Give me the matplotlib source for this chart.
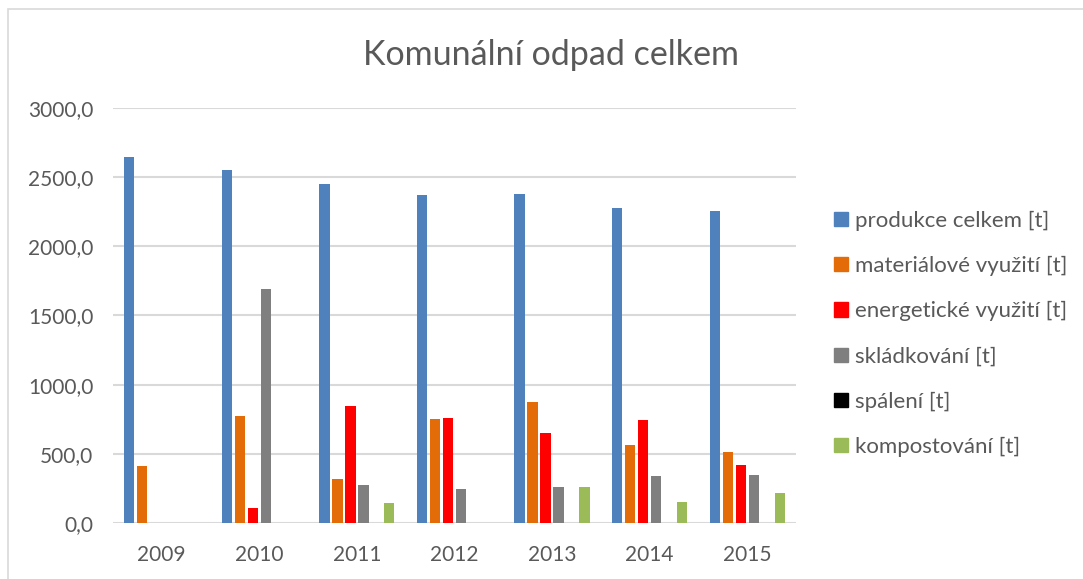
import matplotlib.pyplot as plt
import matplotlib.patches as mpatches
import numpy as np

plt.rcParams['font.family'] = ['Lato', 'DejaVu Sans']

years = ['2009', '2010', '2011', '2012', '2013', '2014', '2015']
series_names = ['produkce celkem [t]', 'materiálové využití [t]', 'energetické využití [t]',
                'skládkování [t]', 'spálení [t]', 'kompostování [t]']
produkce = [2643, 2549, 2448, 2369, 2381, 2277, 2256]
materialove = [412, 775, 318, 753, 874, 566, 515]
energeticke = [0, 111, 843, 758, 652, 744, 421]
skladkovani = [0, 1690, 272, 248, 258, 337, 349]
spaleni = [0, 0, 0, 0, 0, 0, 0]
kompostovani = [0, 0, 144, 0, 260, 152, 219]
colors = ['#4F81BD', '#E36C09', '#FF0000', '#7F7F7F', '#000000', '#9BBB59']

text_color = '#595959'
grid_color = '#D9D9D9'

fig = plt.figure(figsize=(10.83, 5.79), dpi=100)
ax = fig.add_axes([0.1043, 0.0967, 0.6307, 0.7168])

x = np.arange(len(years))
slot = 0.133
width = 0.105
all_series = [produkce, materialove, energeticke, skladkovani, spaleni, kompostovani]
for j, (vals, c) in enumerate(zip(all_series, colors)):
    ax.bar(x + (j - 2.5) * slot, vals, width=width, color=c, zorder=3)

ax.set_xlim(-0.5, len(years) - 0.5)
ax.set_ylim(0, 3000)
ax.set_yticks(np.arange(0, 3001, 500))
ax.set_yticklabels([f'{v:.1f}'.replace('.', ',') for v in np.arange(0, 3001, 500)])
ax.set_xticks(x)
ax.set_xticklabels(years)
ax.tick_params(axis='y', length=0, pad=14, labelsize=15, labelcolor=text_color)
ax.tick_params(axis='x', length=0, pad=16, labelsize=15, labelcolor=text_color)
ax.grid(axis='y', color=grid_color, linewidth=1.5, zorder=0)
for s in ax.spines.values():
    s.set_visible(False)

fig.text(0.509, 0.905, 'Komunální odpad celkem', ha='center', va='center',
         fontsize=24.5, color=text_color)

handles = [mpatches.Patch(color=c, label=n) for c, n in zip(colors, series_names)]
fig.legend(handles=handles, loc='center left', bbox_to_anchor=(0.760, 0.4235),
           frameon=False, fontsize=16, labelcolor=text_color, labelspacing=1.13,
           handlelength=0.6, handleheight=0.6, handletextpad=0.35, borderpad=0)

# chart border
border = mpatches.Rectangle((8 / 1083, -0.05), 1.1, 1 - 9 / 579 + 0.05,
                            transform=fig.transFigure, fill=False,
                            edgecolor='#D9D9D9', linewidth=1.2)
fig.patches.append(border)

fig.savefig('out.png', dpi=100)
